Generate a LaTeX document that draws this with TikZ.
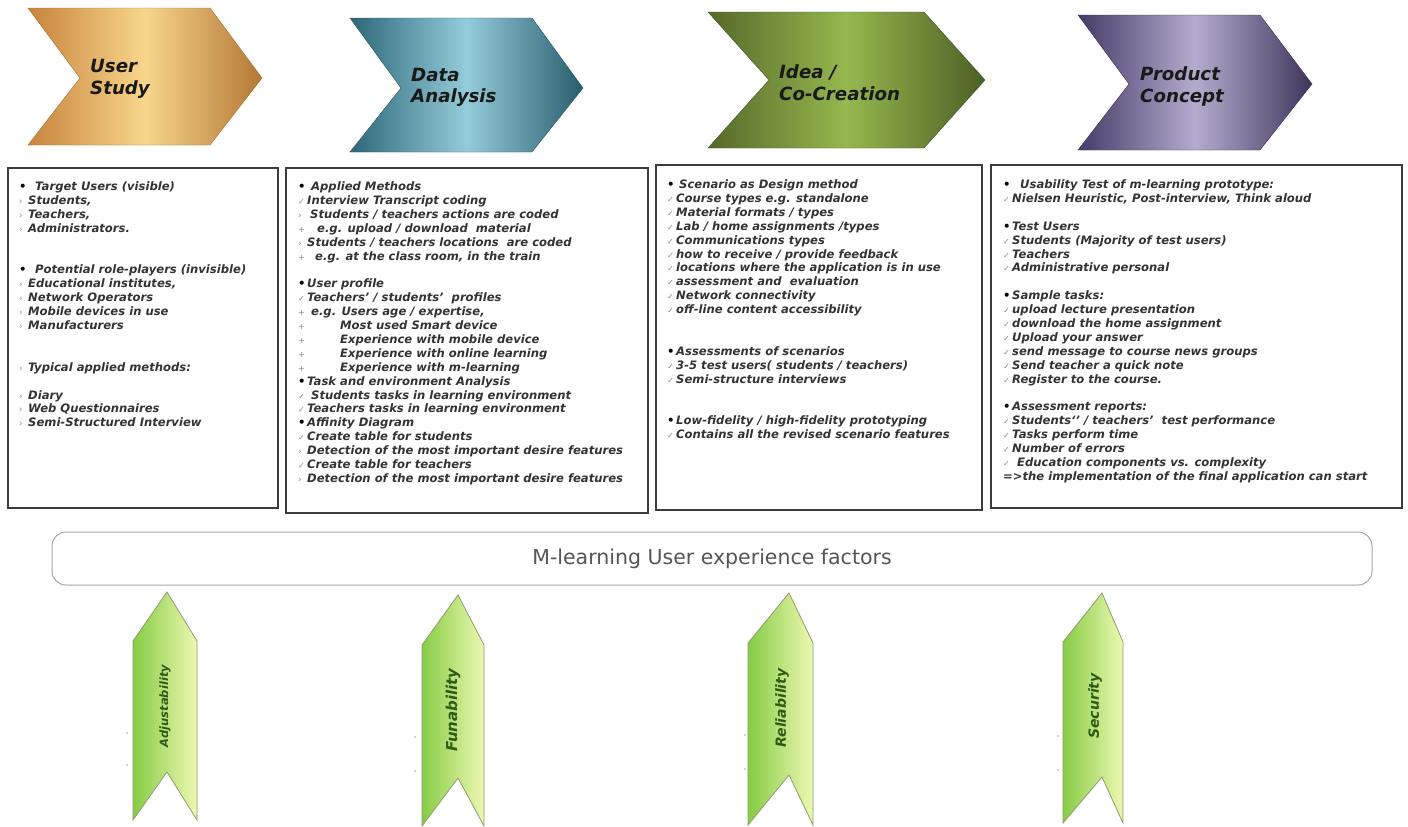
\documentclass[tikz,border=0pt]{standalone}
\usepackage{fontspec}
\setmainfont{DejaVu Sans}[BoldFont={DejaVu Sans Bold},ItalicFont={DejaVu Sans Oblique},BoldItalicFont={DejaVu Sans Bold Oblique}]
\usepackage{xcolor}
\definecolor{txtgray}{HTML}{333333}
\definecolor{mkgray}{HTML}{8A8A8A}
\definecolor{orD}{HTML}{C8843C}
\definecolor{orL}{HTML}{F8D68C}
\definecolor{teD}{HTML}{2D6778}
\definecolor{teL}{HTML}{95CCDB}
\definecolor{olD}{HTML}{55692A}
\definecolor{olL}{HTML}{96B84E}
\definecolor{puD}{HTML}{463B66}
\definecolor{puL}{HTML}{B6AACF}
\definecolor{grD}{HTML}{86CC45}
\definecolor{grL}{HTML}{EEF8B2}
\definecolor{grB}{HTML}{8E9C6E}
\definecolor{grT}{HTML}{2E5A14}
\definecolor{boxB}{HTML}{3C3C3C}
\definecolor{bandB}{HTML}{A8A8A8}
\definecolor{bandT}{HTML}{555555}
\newlength\mkw
\setlength\mkw{9pt}
\newcommand\mbul{\makebox[\mkw][l]{\textcolor{black}{\normalfont\bfseries •}}}
\newcommand\mgt{\makebox[\mkw][l]{\textcolor{mkgray}{\normalfont\fontsize{9}{9}\selectfont ›}}}
\newcommand\mck{\makebox[\mkw][l]{\textcolor{mkgray}{\normalfont\fontsize{8}{8}\selectfont ✓}}}
\newcommand\mpl{\makebox[\mkw][l]{\textcolor{mkgray}{\normalfont\fontsize{8}{8}\selectfont +}}}
\tikzset{
  boxframe/.style={draw=boxB, line width=1.6pt, fill=white},
  boxtxt/.style={anchor=north west, inner sep=0pt, align=left, text=txtgray,
    font=\fontsize{11.6}{13.9}\selectfont\bfseries\itshape},
  chevtxt/.style={anchor=west, inner sep=0pt, align=left, text=black!90,
    font=\fontsize{18.2}{21.5}\selectfont\bfseries\itshape},
  ribbon/.style={draw=grB, line width=0.8pt, left color=grD, right color=grL},
  ribtxt/.style={rotate=90, inner sep=0pt, text=grT},
  band/.style={draw=bandB, line width=1pt, rounded corners=14pt, fill=white,
    minimum width=1320pt, minimum height=53pt, text=bandT,
    font=\fontsize{20.5}{24}\selectfont},
  speck/.style={fill=gray!70, draw=none}
}
\begin{document}
\begin{tikzpicture}[x=1pt,y=-1pt]
\useasboundingbox (0,0) rectangle (1408,827);
\fill[white] (0,0) rectangle (1408,827);

% ---- chevrons ----
\path[draw=orD!80!black, line width=0.4pt, left color=orD, right color=orD!90!black, middle color=orL]
  (28,8) -- (210,8) -- (262,78) -- (210,145) -- (28,145) -- (80,78) -- cycle;
\path[draw=teD!80!black, line width=0.4pt, left color=teD, right color=teD!90!black, middle color=teL]
  (350,18) -- (532,18) -- (583,88) -- (532,152) -- (350,152) -- (401,88) -- cycle;
\path[draw=olD!80!black, line width=0.4pt, left color=olD, right color=olD!90!black, middle color=olL]
  (708,12) -- (924,12) -- (985,80) -- (924,148) -- (708,148) -- (769,80) -- cycle;
\path[draw=puD!80!black, line width=0.4pt, left color=puD, right color=puD!90!black, middle color=puL]
  (1078,15) -- (1260,15) -- (1312,84) -- (1260,150) -- (1078,150) -- (1129,84) -- cycle;

\node[chevtxt] (c1) at (90,79) {User\\Study};
\node[chevtxt] (c2) at (411,87.5) {Data\\Analysis};
\node[chevtxt] (c3) at (779,82.5) {Idea /\\Co-Creation};
\node[chevtxt] (c4) at (1140,86.5) {Product\\Concept};

% ---- boxes ----
\draw[boxframe] (8,168) rectangle (278,508);
\draw[boxframe] (286,168) rectangle (648,513);
\draw[boxframe] (656,165) rectangle (982,510);
\draw[boxframe] (991,165) rectangle (1402,508);

\node[boxtxt] (t1) at (19,181.5) {%
\mbul\hspace{7pt}Target Users (visible)\\
\mgt Students,\\
\mgt Teachers,\\
\mgt Administrators.\\[27.8pt]
\mbul\hspace{7pt}Potential role-players (invisible)\\
\mgt Educational institutes,\\
\mgt Network Operators\\
\mgt Mobile devices in use\\
\mgt Manufacturers\\[27.8pt]
\mgt Typical applied methods:\\[13.9pt]
\mgt Diary\\
\mgt Web Questionnaires\\
\mgt Semi-Structured Interview};

\node[boxtxt] (t2) at (298,181.5) {%
\setlength\mkw{10pt}%
\mbul\hspace{3pt}Applied Methods\\
\mck Interview Transcript coding\\
\mgt\hspace{3pt}Students / teachers actions are coded\\
\mpl\hspace{10pt}e.g. upload / download\ \ material\\
\mgt Students / teachers locations\ \ are coded\\
\mpl\hspace{8pt}e.g. at the class room, in the train\\[13.9pt]
\mbul User profile\\
\mck Teachers' / students'\ \ profiles\\
\mpl\hspace{4pt}e.g. Users age / expertise,\\
\mpl\hspace{33pt}Most used Smart device\\
\mpl\hspace{33pt}Experience with mobile device\\
\mpl\hspace{33pt}Experience with online learning\\
\mpl\hspace{33pt}Experience with m-learning\\
\mbul Task and environment Analysis\\
\mck\hspace{4pt}Students tasks in learning environment\\
\mck Teachers tasks in learning environment\\
\mbul Affinity Diagram\\
\mck Create table for students\\
\mgt Detection of the most important desire features\\
\mck Create table for teachers\\
\mgt Detection of the most important desire features};

\node[boxtxt] (t3) at (667,179.5) {%
\setlength\mkw{12pt}%
\mbul Scenario as Design method\\
\mck Course types e.g. standalone\\
\mck Material formats / types\\
\mck Lab / home assignments /types\\
\mck Communications types\\
\mck how to receive / provide feedback\\
\mck locations where the application is in use\\
\mck assessment and\ \ evaluation\\
\mck Network connectivity\\
\mck off-line content accessibility\\[27.8pt]
\mbul Assessments of scenarios\\
\mck 3-5 test users( students / teachers)\\
\mck Semi-structure interviews\\[27.8pt]
\mbul Low-fidelity / high-fidelity prototyping\\
\mck Contains all the revised scenario features};

\node[boxtxt] (t4) at (1003,179.5) {%
\setlength\mkw{12pt}%
\mbul\hspace{5pt}Usability Test of m-learning prototype:\\
\mck Nielsen Heuristic, Post-interview, Think aloud\\[13.9pt]
\mbul Test Users\\
\mck Students (Majority of test users)\\
\mck Teachers\\
\mck Administrative personal\\[13.9pt]
\mbul Sample tasks:\\
\mck upload lecture presentation\\
\mck download the home assignment\\
\mck Upload your answer\\
\mck send message to course news groups\\
\mck Send teacher a quick note\\
\mck Register to the course.\\[13.9pt]
\mbul Assessment reports:\\
\mck Students`' / teachers'\ \ test performance\\
\mck Tasks perform time\\
\mck Number of errors\\
\mck\hspace{5pt}Education components vs. complexity\\
=>the implementation of the final application can start};

% ---- band ----
\node[band] (band) at (712,558.5) {M-learning User experience factors};

% ---- ribbons ----
\path[ribbon] (133,820) -- (133,641) -- (167,592) -- (197,641) -- (197,820) -- (167,772) -- cycle;
\path[ribbon] (422,826) -- (422,645) -- (458,595) -- (484,645) -- (484,826) -- (458,778) -- cycle;
\path[ribbon] (748,825) -- (748,643) -- (789,593) -- (813,643) -- (813,825) -- (789,775) -- cycle;
\path[ribbon] (1063,823) -- (1063,642) -- (1102,593) -- (1123,642) -- (1123,823) -- (1102,777) -- cycle;

\node[ribtxt, font=\fontsize{11.5}{13}\selectfont\bfseries\itshape] (r1) at (165,706) {Adjustability};
\node[ribtxt, font=\fontsize{15}{17}\selectfont\bfseries\itshape] (r2) at (453,710) {Funability};
\node[ribtxt, font=\fontsize{14}{16}\selectfont\bfseries\itshape] (r3) at (782,708) {Reliability};
\node[ribtxt, font=\fontsize{14}{16}\selectfont\bfseries\itshape] (r4) at (1095,706) {Security};

\foreach \x/\y in {127/733,127/765,415/737,415/771,745/735,745/769,1058/736,1058/770}
  \fill[speck] (\x,\y) circle (0.8pt);
\end{tikzpicture}
\end{document}
